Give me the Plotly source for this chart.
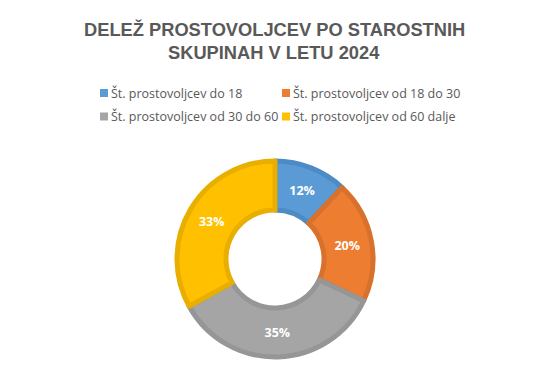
import plotly.graph_objects as go

labels = ["Št. prostovoljcev do 18", "Št. prostovoljcev od 18 do 30",
          "Št. prostovoljcev od 30 do 60", "Št. prostovoljcev od 60 dalje"]
values = [12, 20, 35, 33]
colors = ["#5B9BD5", "#ED7D31", "#A5A5A5", "#FFC000"]
border_colors = ["#4D8BC6", "#D8712C", "#969696", "#E8AE00"]
title_lines = ["DELEŽ PROSTOVOLJCEV PO STAROSTNIH", "SKUPINAH V LETU 2024"]

# page body adds an 8px offset, so the figure is laid out 8px smaller
W, H = 542, 362

def px(x):
    return x / W

def py(y):
    return (H - y) / H

fig = go.Figure(go.Pie(
    labels=labels, values=values, sort=False, direction="clockwise", rotation=0,
    hole=0.5,
    marker=dict(colors=colors, line=dict(color=border_colors, width=5)),
    texttemplate="%{percent:.0%}",
    textposition="inside", insidetextorientation="horizontal",
    textfont=dict(family="Open Sans", size=12.5, color="white", weight="bold"),
    domain=dict(x=[0, 534 / W], y=[py(349), py(153)]),
    hoverinfo="label+percent",
    showlegend=False,
))

annotations = []
shapes = []
for i, t in enumerate(title_lines):
    annotations.append(dict(
        text=t, x=px(266), y=py(22 + 22 * i), xref="paper", yref="paper",
        showarrow=False, xanchor="center", yanchor="middle",
        font=dict(family="Liberation Sans", size=18.3, color="#595959", weight="bold")))

# legend (2 columns x 2 rows)
col_x = [92, 274]
row_y = [85, 108.5]
for i, (lab, c) in enumerate(zip(labels, colors)):
    cx = col_x[i % 2]
    cy = row_y[i // 2]
    shapes.append(dict(type="rect", xref="paper", yref="paper",
                       x0=px(cx), x1=px(cx + 8), y0=py(cy - 4), y1=py(cy + 4),
                       fillcolor=c, line=dict(width=0)))
    annotations.append(dict(
        text=lab, x=px(cx + 9), y=py(cy), xref="paper", yref="paper",
        showarrow=False, xanchor="left", yanchor="middle",
        font=dict(family="Open Sans", size=12.5, color="#595959")))

fig.update_layout(
    width=W, height=H,
    margin=dict(l=0, r=0, t=0, b=0),
    paper_bgcolor="white", plot_bgcolor="white",
    font=dict(family="Open Sans", color="#595959"),
    showlegend=False,
    annotations=annotations,
    shapes=shapes,
)

fig.write_html("out.html")
